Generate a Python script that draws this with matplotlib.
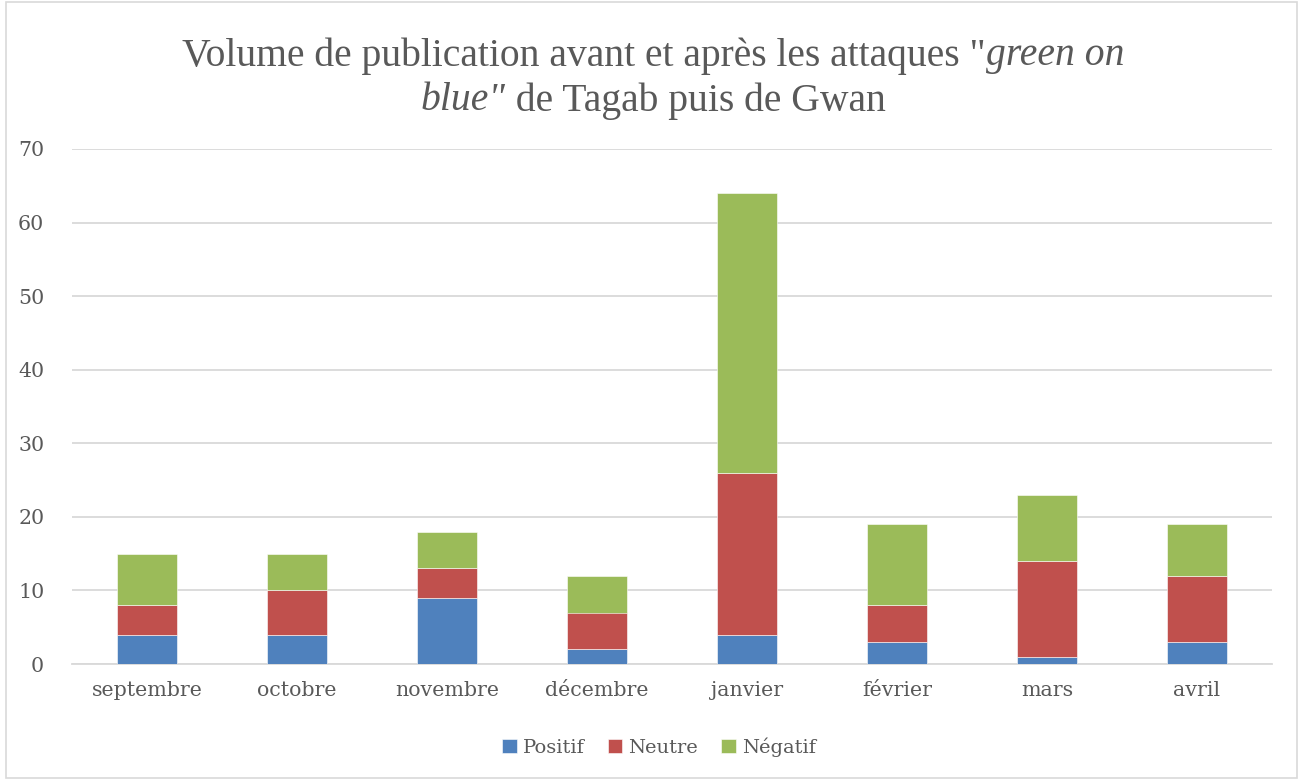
import matplotlib
matplotlib.use("Agg")
import matplotlib.pyplot as plt
import numpy as np
from matplotlib.patches import Rectangle

months = ["septembre", "octobre", "novembre", "décembre", "janvier", "février", "mars", "avril"]
positif = [4, 4, 9, 2, 4, 3, 1, 3]
neutre = [4, 6, 4, 5, 22, 5, 13, 9]
negatif = [7, 5, 5, 5, 38, 11, 9, 7]
series_names = ["Positif", "Neutre", "Négatif"]
colors = ["#4F81BD", "#C0504D", "#9BBB59"]
TEXT = "#595959"
GRID = "#D9D9D9"
SERIF = ["DejaVu Serif"]
TITLE_FONT = ["Liberation Serif"]

fig = plt.figure(figsize=(13.03, 7.80), dpi=100)
fig.patches.append(Rectangle((6 / 1303, 2 / 780), 1291 / 1303, 776 / 780,
                             transform=fig.transFigure, fill=False,
                             edgecolor=GRID, linewidth=1.2))
ax = fig.add_axes([72 / 1303, 116 / 780, 1200 / 1303, 515 / 780])

x = np.arange(len(months))
bottom = np.zeros(len(months))
for name, vals, c in zip(series_names, [positif, neutre, negatif], colors):
    ax.bar(x, vals, width=0.4, bottom=bottom, color=c, label=name,
           edgecolor="white", linewidth=0.4, zorder=3)
    bottom += np.array(vals)

ax.set_xlim(-0.5, len(months) - 0.5)
ax.set_ylim(0, 70)
ax.set_yticks(range(0, 71, 10))
ax.grid(axis="y", color=GRID, linewidth=1.3, zorder=0)
for s in ["top", "right", "left"]:
    ax.spines[s].set_visible(False)
ax.spines["bottom"].set_color(GRID)
ax.spines["bottom"].set_linewidth(1.3)
ax.tick_params(length=0, colors=TEXT, labelsize=14.8)
ax.tick_params(axis="y", pad=20)
ax.tick_params(axis="x", pad=12)
ax.set_xticks(x)
ax.set_xticklabels(months)
for lab in ax.get_xticklabels() + ax.get_yticklabels():
    lab.set_family(SERIF)

leg = fig.legend(loc="center", bbox_to_anchor=(659 / 1303, 1 - 747 / 780), ncol=3,
                 frameon=False, handlelength=0.75, handleheight=0.75,
                 handletextpad=0.3, columnspacing=1.2,
                 prop={"family": SERIF, "size": 14})
for t in leg.get_texts():
    t.set_color(TEXT)

# title with italic parts, pieces laid out by measured width
renderer = fig.canvas.get_renderer()
title_lines = [
    [("Volume de publication avant et après les attaques \"", "normal"), ("green on", "italic")],
    [("blue\"", "italic"), (" de Tagab puis de Gwan", "normal")],
]
line_y = [1 - 56 / 780, 1 - 101 / 780]
for parts, yy in zip(title_lines, line_y):
    texts = []
    for s, style in parts:
        t = fig.text(0, yy, s, fontsize=28.5, style=style, color=TEXT,
                     family=TITLE_FONT, va="center", ha="left")
        texts.append(t)
    widths = [t.get_window_extent(renderer).width for t in texts]
    total = sum(widths)
    xpos = 653 - total / 2
    for t, w in zip(texts, widths):
        t.set_x(xpos / 1303)
        xpos += w

fig.savefig("out.png", dpi=100)
